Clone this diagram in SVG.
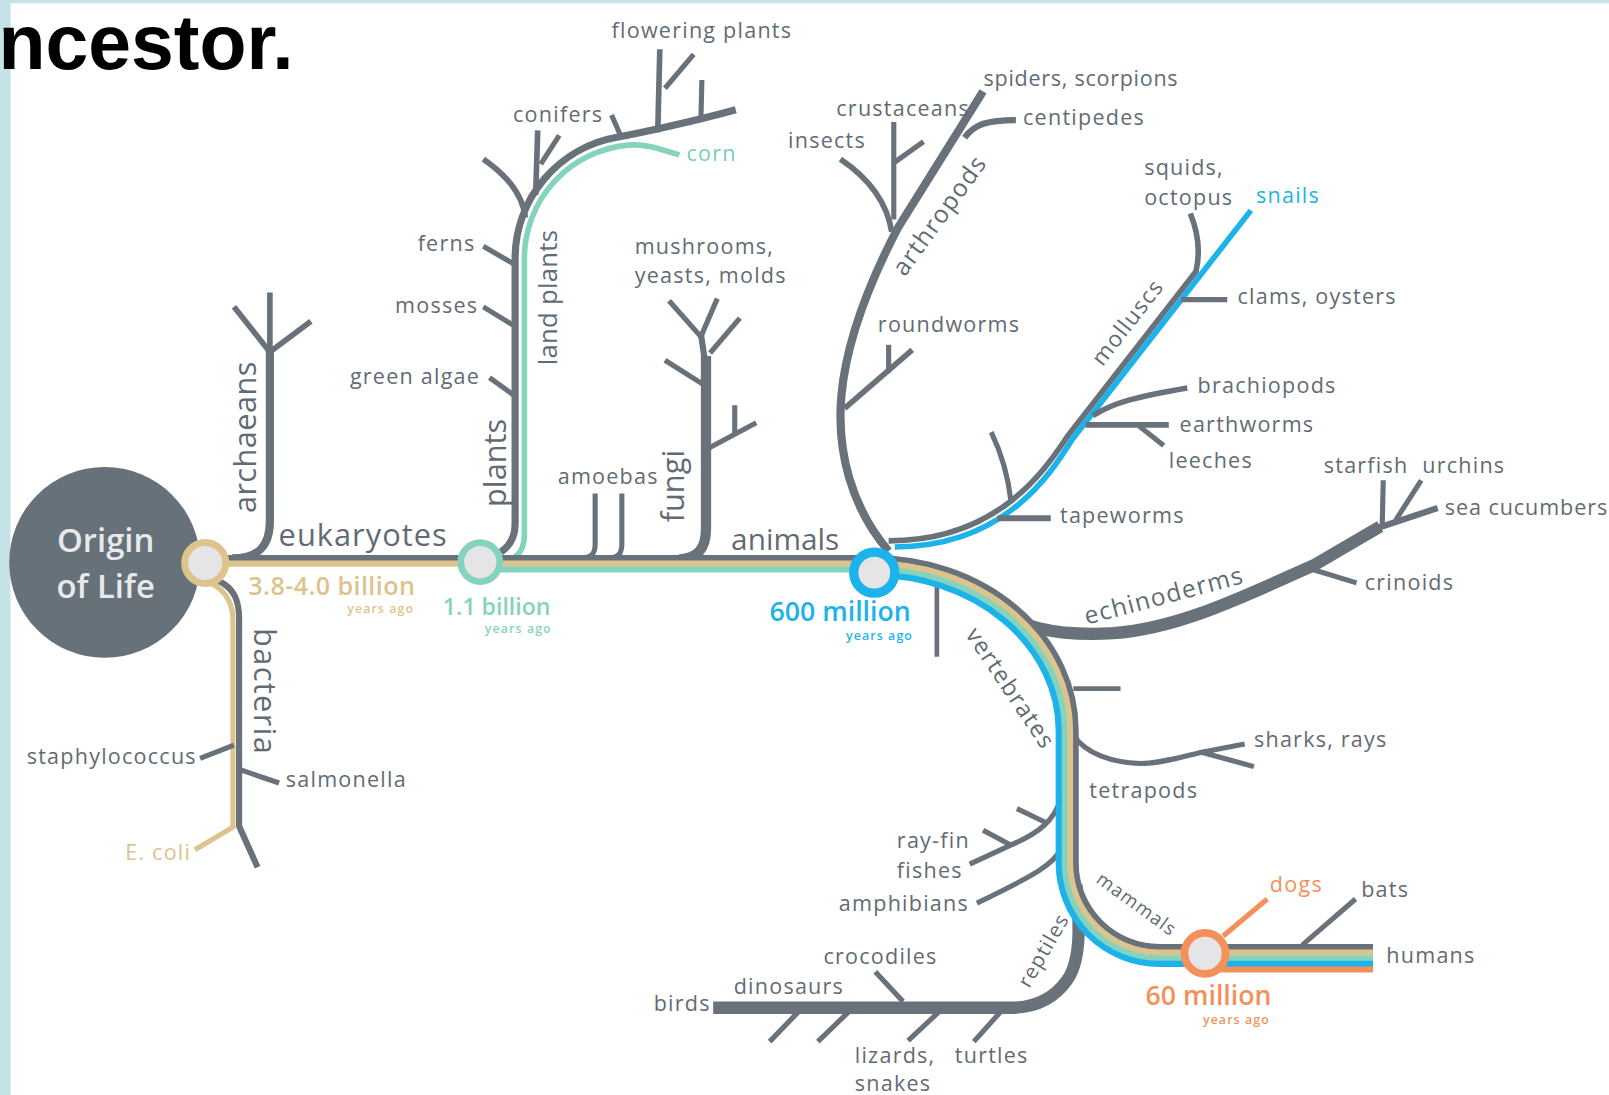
<svg xmlns="http://www.w3.org/2000/svg" width="1609" height="1095" viewBox="0 0 1609 1095">
<style>
.ln{fill:none;stroke:#69727a;stroke-linecap:butt;stroke-linejoin:round}
.w4{stroke-width:4.5}.w5{stroke-width:5}.w55{stroke-width:5.5}.w6{stroke-width:6}.w7{stroke-width:7}.w8{stroke-width:8}.w10{stroke-width:10}.w12{stroke-width:12}
.st{fill:none;stroke-width:6;stroke-linecap:butt}
.t{font-family:"Open Sans","Noto Sans","DejaVu Sans",sans-serif;font-size:21px;letter-spacing:1.2px;fill:#626b73}
.b{font-size:30px;letter-spacing:0}
.y{font-size:12px;letter-spacing:1.1px;font-weight:600}
.d{font-size:24px;font-weight:600;letter-spacing:0}
.node{fill:#e5e5e7}
</style>
<rect x="0" y="0" width="1609" height="1095" fill="#ffffff"/>
<rect x="0" y="0" width="10.5" height="1095" fill="#c5e2e6"/>
<rect x="0" y="0" width="1609" height="3.3" fill="#c5e2e6"/>
<g transform="scale(1.02615 1.02624)">
<text x="-1.5" y="67" font-family="Liberation Sans, Arial, sans-serif" font-size="75" font-weight="bold" fill="#000">ncestor.</text>

<g id="connectors">
 <!-- archaeans -->
 <path class="ln w8" d="M226 544 C252 544 263 532 263 508 L263 338"/>
 <path class="ln w55" d="M263 342 L263 285 M263 343 L228 299 M263 343 L303 313"/>
 <!-- bacteria -->
 <path class="ln w6" d="M213 566 C228 573 233 585 233 603 L233 805 L251 845"/>
 <path class="st" style="stroke:#dcc48c;stroke-width:5" d="M207 569 C220 576 227 588 227 605 L227 806 L190 828"/>
 <path class="ln w5" d="M228 726 L195 739 M234 750 L272 763"/>
 <!-- plants -->
 <path class="ln w7" d="M488 538 C497 532 502 524 502 510 L502 252 A120 120 0 0 1 601.2 133.8 C625.8 129.4 677 118 717 107"/>
 <path class="st" style="stroke:#86d3bd;stroke-width:5.5" d="M488 548 C503 546 511 538 511 520 L511 252 A111 111 0 0 1 612.3 141.4 C628 140 640 144 662 151"/>
 <path class="ln w5" d="M502 258 L471 240 M502 318 L471 299 M502 386 L477 368"/>
 <path class="ln w55" d="M512 212 C510 195 500 175 471 155 M522 190 L524 127"/>
 <path class="ln w5" d="M527 160 L545 132 M606 135 L596 112"/>
 <path class="ln w55" d="M641 129 L643 48"/>
 <path class="ln w5" d="M648 86 L676 53 M683 118 L684 78"/>
 <!-- amoebas -->
 <path class="ln w5" d="M580 481 L580 530 C580 540 576 543 568 544 M606 481 L606 530 C606 540 602 543 594 544"/>
 <!-- fungi -->
 <path class="ln w10" d="M662 545 C680 544 688 535 688 515 L688 347"/>
 <path class="ln w6" d="M687 352 L683 325"/>
 <path class="ln w5" d="M683 328 L652 293 M683 328 L699 291 M692 344 L721 310 M686 375 L648 351 M690 437 L737 412 M716 423 L716 395"/>
 <!-- animals / arthropods -->
 <path class="ln w8" d="M866 537 C830 495 815 440 820 385 C825 330 850 270 875 222 L958 89"/>
 <path class="ln w55" d="M869 226 C865 200 850 176 819 155"/>
 <path class="ln w5" d="M871 214 L871 119 M872 158 L900 138"/>
 <path class="ln w6" d="M940 134 C950 121 962 117 990 117"/>
 <path class="ln w55" d="M823 398 L889 341"/>
 <path class="ln w5" d="M866 363 L866 336"/>
 <!-- molluscs -->
 <path class="ln w55" d="M866 527 C975 527 1020 455 1040.7 424.6 L1165.5 264.6 C1170 245 1167 225 1160 208"/>
 <path class="st" style="stroke:#1cb3ea;stroke-width:5.5" d="M872 533 C980 533 1025 460 1045 428 L1219 205"/>
 <path class="ln w5" d="M1151 292 L1196 292 M1110 415 L1134 434 M985 487 C982 460 975 440 966 421"/>
 <path class="ln w55" d="M1065 405 C1085 392 1110 386 1157 378 M1058 414 L1139 414"/>
 <path class="ln w6" d="M972 505 L1024 505"/>
 <!-- echinoderms -->
 <path class="ln w12" d="M960 586 C990 612 1030 620 1085 617 C1150 612 1210 582 1280 551 L1345 513"/>
 <path class="ln w6" d="M1338 516 L1371 505 L1401 495"/>
 <path class="ln w5" d="M1347 512 L1348 468 M1360 507 L1385 468 M1276 554 L1322 568"/>
 <!-- vertebrate side branches -->
 <path class="ln w4" d="M913 566 L913 640 M1046 671 L1092 671"/>
 <path class="ln w5" d="M1046 716 C1058 735 1085 743 1111 744 C1130 744 1150 738 1171 733 L1213 725 M1171 733 L1222 747"/>
 <path class="ln w5" d="M1034 778 C1027 800 1012 812 986 823 L945 842 M1020 802 L991 788 M984 823 L958 809"/>
 <path class="ln w5" d="M1034 827 C1027 842 1010 852 952 880"/>
 <!-- reptiles -->
 <path class="ln w12" d="M1049 862 C1052 900 1054 935 1040 955 C1028 972 1010 982 985 982 L695 982"/>
 <path class="ln w5" d="M880 976 L853 947 M778 986 L750 1015 M827 986 L797 1015 M915 986 L885 1014 M975 986 L949 1015"/>
 <!-- main band stripes -->
 <path class="st" style="stroke:#69727a" d="M200 543.75 L851 543.75 A197.25 168.25 0 0 1 1048.25 712 L1048.25 841 A81.75 81.75 0 0 0 1130 922.75 L1338 922.75"/>
 <path class="st" style="stroke:#dcc48c" d="M200 549.25 L851 549.25 A191.75 162.75 0 0 1 1042.75 712 L1042.75 841 A87.25 87.25 0 0 0 1130 928.25 L1338 928.25"/>
 <path class="st" style="stroke:#86d3bd" d="M468 554.75 L851 554.75 A186.25 157.25 0 0 1 1037.25 712 L1037.25 841 A92.75 92.75 0 0 0 1130 933.75 L1338 933.75"/>
 <path class="st" style="stroke:#1cb3ea" d="M851 560.25 A180.75 151.75 0 0 1 1031.75 712 L1031.75 841 A98.25 98.25 0 0 0 1130 939.25 L1338 939.25"/>
 <path class="st" style="stroke:#f4915b" d="M1174 944.75 L1338 944.75"/>
 <!-- mammals -->
 <path class="st" style="stroke:#f4915b;stroke-width:5" d="M1192 912 L1235 876"/>
 <path class="ln w5" d="M1269 921 L1321 876"/>
</g>

<g id="node-origin">
 <circle cx="102" cy="548" r="93" fill="#67717a"/>
 <text class="t" x="103" y="537.6" text-anchor="middle" style="font-size:32px;font-weight:600;letter-spacing:0;fill:#e8e9eb">Origin</text>
 <text class="t" x="103" y="583" text-anchor="middle" style="font-size:32px;font-weight:600;letter-spacing:0;fill:#e8e9eb">of Life</text>
</g>
<g id="node-4bya">
 <circle class="node" cx="200" cy="548.6" r="20" stroke="#dcc48c" stroke-width="6.8"/>
 <text class="t d" x="242" y="579.5" style="fill:#dcc48c;font-size:24.5px;letter-spacing:0.4px">3.8-4.0 billion</text>
 <text class="t y" x="403.6" y="597" text-anchor="end" style="fill:#dcc48c">years ago</text>
</g>
<g id="node-1bya">
 <circle class="node" cx="468" cy="547.7" r="19" stroke="#86d3bd" stroke-width="6.5"/>
 <text class="t d" x="431.6" y="599" style="fill:#86d3bd;font-size:22.5px">1.1 billion</text>
 <text class="t y" x="537.7" y="616.5" text-anchor="end" style="fill:#86d3bd">years ago</text>
</g>
<g id="node-600mya">
 <circle class="node" cx="852" cy="558" r="20" stroke="#1cb3ea" stroke-width="9"/>
 <text class="t d" x="750" y="605" style="fill:#1cb3ea;font-size:26px">600 million</text>
 <text class="t y" x="889.7" y="623.5" text-anchor="end" style="fill:#1cb3ea">years ago</text>
</g>
<g id="node-60mya">
 <circle class="node" cx="1174.3" cy="929" r="20" stroke="#f4915b" stroke-width="7.5"/>
 <text class="t d" x="1116.4" y="979.5" style="fill:#f4915b;font-size:26px">60 million</text>
 <text class="t y" x="1237.5" y="998" text-anchor="end" style="fill:#f4915b">years ago</text>
</g>

<g id="labels-groups">
 <text class="t b" transform="translate(249 500) rotate(-90)" style="letter-spacing:0.4px">archaeans</text>
 <text class="t b" transform="translate(248 612) rotate(90)" style="letter-spacing:1.3px">bacteria</text>
 <text class="t b" x="271.5" y="532" style="letter-spacing:1px">eukaryotes</text>
 <text class="t b" transform="translate(493 494) rotate(-90)">plants</text>
 <text class="t" transform="translate(543 356) rotate(-90)" style="font-size:25px;letter-spacing:0.3px">land plants</text>
 <text class="t b" transform="translate(667 509) rotate(-90)">fungi</text>
 <text class="t b" x="712.5" y="535.5" style="font-size:29px">animals</text>
 <text class="t" transform="translate(916.5 210.6) rotate(-54)" text-anchor="middle" y="7" style="font-size:24px">arthropods</text>
 <text class="t" transform="translate(1100 315) rotate(-52.3)" text-anchor="middle" y="6" style="font-size:22px">molluscs</text>
 <text class="t" transform="translate(1134.5 581.5) rotate(-14.8)" text-anchor="middle" y="7" style="font-size:24px">echinoderms</text>
 <text class="t" transform="translate(984 671) rotate(56.2)" text-anchor="middle" y="7" style="font-size:23px">vertebrates</text>
 <text class="t" transform="translate(1107 882) rotate(36)" text-anchor="middle" y="5" style="font-size:18px">mammals</text>
 <text class="t" transform="translate(1017.5 926.5) rotate(-60)" text-anchor="middle" y="6" style="font-size:20px">reptiles</text>
</g>
<g id="labels-leaves">
 <text class="t" x="596" y="37.5">flowering plants</text>
 <text class="t" x="500" y="118.5">conifers</text>
 <text class="t" x="669" y="156.5" style="fill:#76cfb5">corn</text>
 <text class="t" x="407" y="245">ferns</text>
 <text class="t" x="385" y="305">mosses</text>
 <text class="t" x="341" y="374">green algae</text>
 <text class="t" x="618.5" y="248">mushrooms,</text>
 <text class="t" x="618.5" y="276">yeasts, molds</text>
 <text class="t" x="543.5" y="471.5">amoebas</text>
 <text class="t" x="768" y="144.5">insects</text>
 <text class="t" x="815" y="113.5">crustaceans</text>
 <text class="t" x="958.5" y="83.5" style="letter-spacing:0.7px">spiders, scorpions</text>
 <text class="t" x="997" y="121.5">centipedes</text>
 <text class="t" x="1115" y="171">squids,</text>
 <text class="t" x="1115" y="200">octopus</text>
 <text class="t" x="1224" y="198" style="fill:#1cb3ea">snails</text>
 <text class="t" x="1206" y="296">clams, oysters</text>
 <text class="t" x="855.5" y="324">roundworms</text>
 <text class="t" x="1167" y="383">brachiopods</text>
 <text class="t" x="1149.5" y="421">earthworms</text>
 <text class="t" x="1139" y="456">leeches</text>
 <text class="t" x="1033" y="510">tapeworms</text>
 <text class="t" x="1290" y="461">starfish</text>
 <text class="t" x="1386" y="461">urchins</text>
 <text class="t" x="1408" y="501.5" style="letter-spacing:0.9px">sea cucumbers</text>
 <text class="t" x="1330" y="575">crinoids</text>
 <text class="t" x="1222" y="728">sharks, rays</text>
 <text class="t" x="1061.5" y="778">tetrapods</text>
 <text class="t" x="874" y="826.5">ray-fin</text>
 <text class="t" x="874" y="856">fishes</text>
 <text class="t" x="817.5" y="887.5">amphibians</text>
 <text class="t" x="802.5" y="939.5">crocodiles</text>
 <text class="t" x="715" y="968.5">dinosaurs</text>
 <text class="t" x="637" y="985.5">birds</text>
 <text class="t" x="833" y="1035.5">lizards,</text>
 <text class="t" x="833" y="1063.5">snakes</text>
 <text class="t" x="930.5" y="1035.5">turtles</text>
 <text class="t" x="1237.5" y="869.5" style="fill:#f4915b">dogs</text>
 <text class="t" x="1326.5" y="874.5">bats</text>
 <text class="t" x="1351" y="938.5">humans</text>
 <text class="t" x="26" y="744">staphylococcus</text>
 <text class="t" x="278.5" y="766.5">salmonella</text>
 <text class="t" x="122" y="838" style="fill:#dcc48c">E. coli</text>
</g>
</g>
</svg>
